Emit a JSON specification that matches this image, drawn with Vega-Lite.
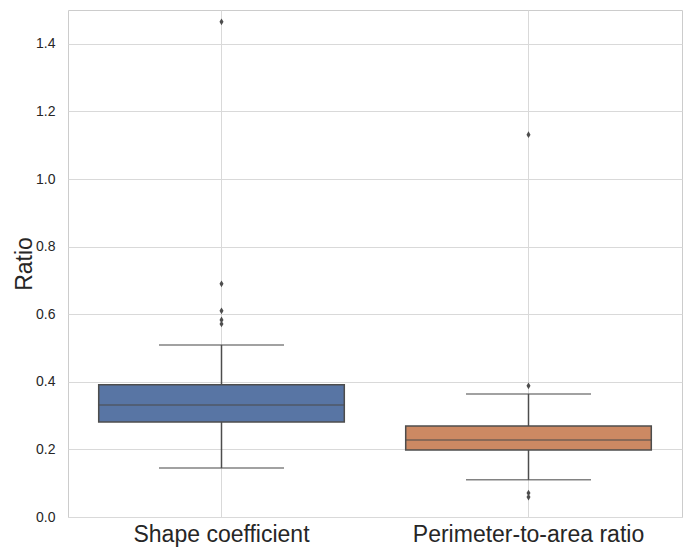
{
  "$schema": "https://vega.github.io/schema/vega-lite/v6.json",
  "autosize": {"type": "none"},
  "width": 614,
  "height": 507,
  "padding": {"left": 68, "top": 10, "right": 1, "bottom": 37},
  "background": "white",
  "config": {
    "font": "Liberation Sans",
    "view": {"stroke": "#cccccc", "strokeWidth": 1},
    "axis": {"gridColor": "#d9d9d9", "gridWidth": 1, "domain": false, "ticks": false, "labelColor": "#262626", "titleColor": "#262626", "titleFontWeight": "normal"}
  },
  "datasets": {
    "boxes": [
      {"metric": "Shape coefficient", "lower": 0.145, "q1": 0.281, "median": 0.331, "q3": 0.391, "upper": 0.509},
      {"metric": "Perimeter-to-area ratio", "lower": 0.11, "q1": 0.198, "median": 0.228, "q3": 0.269, "upper": 0.364}
    ],
    "outliers": [
      {"metric": "Shape coefficient", "value": 1.465},
      {"metric": "Shape coefficient", "value": 0.69},
      {"metric": "Shape coefficient", "value": 0.61},
      {"metric": "Shape coefficient", "value": 0.583},
      {"metric": "Shape coefficient", "value": 0.571},
      {"metric": "Perimeter-to-area ratio", "value": 1.131},
      {"metric": "Perimeter-to-area ratio", "value": 0.388},
      {"metric": "Perimeter-to-area ratio", "value": 0.071},
      {"metric": "Perimeter-to-area ratio", "value": 0.059}
    ]
  },
  "encoding": {
    "x": {
      "field": "metric", "type": "nominal", "sort": ["Shape coefficient", "Perimeter-to-area ratio"],
      "scale": {"paddingInner": 0, "paddingOuter": 0},
      "axis": {"title": null, "labelAngle": 0, "labelFontSize": 23, "labelPadding": 6, "labelLimit": 400, "grid": true, "bandPosition": 0.5}
    }
  },
  "layer": [
    {
      "data": {"name": "boxes"},
      "mark": {"type": "rule", "color": "#4d4d4d", "strokeWidth": 1.5},
      "encoding": {
        "y": {"field": "lower", "type": "quantitative", "scale": {"domain": [0, 1.5], "nice": false},
          "axis": {"title": "Ratio", "titleFontSize": 23, "titlePadding": -1, "labelFontSize": 14, "labelPadding": 13, "values": [0, 0.2, 0.4, 0.6, 0.8, 1.0, 1.2, 1.4], "format": ".1f"}},
        "y2": {"field": "upper"}
      }
    },
    {
      "data": {"name": "boxes"},
      "mark": {"type": "tick", "color": "#4d4d4d", "thickness": 1.5, "size": 125},
      "encoding": {"y": {"field": "lower", "type": "quantitative"}}
    },
    {
      "data": {"name": "boxes"},
      "mark": {"type": "tick", "color": "#4d4d4d", "thickness": 1.5, "size": 125},
      "encoding": {"y": {"field": "upper", "type": "quantitative"}}
    },
    {
      "data": {"name": "boxes"},
      "mark": {"type": "bar", "width": {"band": 0.8}, "stroke": "#4d4d4d", "strokeWidth": 1.5, "opacity": 1},
      "encoding": {
        "y": {"field": "q1", "type": "quantitative"},
        "y2": {"field": "q3"},
        "color": {"field": "metric", "type": "nominal", "legend": null,
          "scale": {"domain": ["Shape coefficient", "Perimeter-to-area ratio"], "range": ["#5875a4", "#cc8963"]}}
      }
    },
    {
      "data": {"name": "boxes"},
      "mark": {"type": "tick", "color": "#4d4d4d", "thickness": 1.5, "size": 246},
      "encoding": {"y": {"field": "median", "type": "quantitative"}}
    },
    {
      "data": {"name": "outliers"},
      "mark": {"type": "point", "shape": "M0,-1L0.6,0L0,1L-0.6,0Z", "filled": true, "color": "#4d4d4d", "opacity": 1, "size": 45},
      "encoding": {"y": {"field": "value", "type": "quantitative"}}
    }
  ]
}
